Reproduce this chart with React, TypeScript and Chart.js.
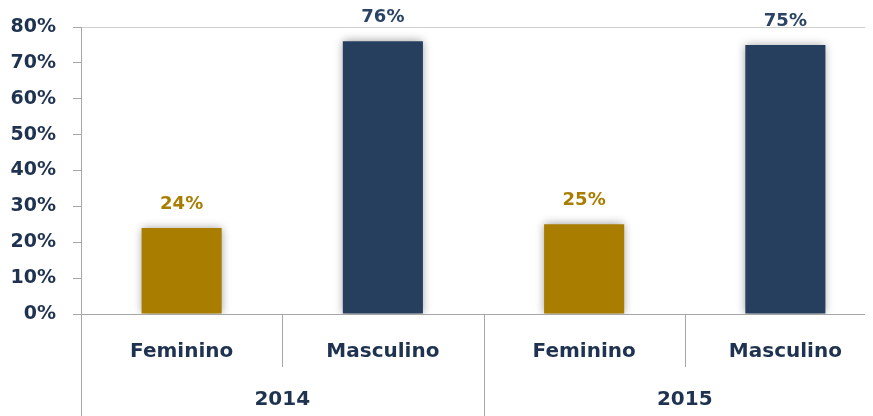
import React, { useEffect, useRef } from "react";
import { Chart, registerables } from "chart.js";

Chart.register(...registerables);

const categories = ["Feminino", "Masculino", "Feminino", "Masculino"];
const groups = ["2014", "2015"];
const groupSize = 2;
const values = [24, 76, 25, 75];
const barColors = ["#A87D00", "#263F5F", "#A87D00", "#263F5F"];
const labelColors = ["#A87D00", "#2B4466", "#A87D00", "#2B4466"];
const yTicks = [0, 10, 20, 30, 40, 50, 60, 70, 80];

const FONT = '"DejaVu Sans", Verdana, sans-serif';
const AXIS_TEXT = "#1F3350";
const AXIS_LINE = "#A6A6A6";

export default function App() {
  const ref = useRef<HTMLCanvasElement | null>(null);

  useEffect(() => {
    const canvas = ref.current;
    if (!canvas) return;

    const shadowPlugin = {
      id: "barShadow",
      beforeDatasetDraw(chart: any) {
        const c = chart.ctx;
        c.save();
        c.shadowColor = "rgba(0,0,0,0.4)";
        c.shadowBlur = 9;
        c.shadowOffsetX = 0;
        c.shadowOffsetY = 0;
      },
      afterDatasetDraw(chart: any) {
        chart.ctx.restore();
      },
    };

    const labelsPlugin = {
      id: "customLabels",
      afterDraw(chart: any) {
        const c = chart.ctx;
        const area = chart.chartArea;
        const xs = chart.scales.x;
        const H = chart.height;
        const meta = chart.getDatasetMeta(0);

        c.save();
        c.font = `bold 18px ${FONT}`;
        c.textAlign = "center";
        c.textBaseline = "middle";
        meta.data.forEach((bar: any, i: number) => {
          c.fillStyle = labelColors[i];
          c.fillText(values[i] + "%", bar.x, bar.y - 24);
        });

        const half = (xs.getPixelForValue(1) - xs.getPixelForValue(0)) / 2;
        c.strokeStyle = AXIS_LINE;
        c.lineWidth = 1;
        c.beginPath();
        c.moveTo(Math.round(area.left) + 0.5, area.bottom);
        c.lineTo(Math.round(area.left) + 0.5, H);
        c.stroke();
        for (let i = 0; i < categories.length; i++) {
          const right = xs.getPixelForValue(i) + half;
          const isGroupEnd = (i + 1) % groupSize === 0;
          c.beginPath();
          c.moveTo(Math.round(right) + 0.5, area.bottom);
          c.lineTo(Math.round(right) + 0.5, isGroupEnd ? H : area.bottom + 53);
          c.stroke();
        }
        c.fillStyle = AXIS_TEXT;
        c.font = `bold 20px ${FONT}`;
        categories.forEach((cat, i) => {
          c.fillText(cat, xs.getPixelForValue(i), area.bottom + 38);
        });
        groups.forEach((g, gi) => {
          const a = xs.getPixelForValue(gi * groupSize);
          const b = xs.getPixelForValue(gi * groupSize + groupSize - 1);
          c.fillText(g, (a + b) / 2, area.bottom + 86);
        });
        c.restore();
      },
    };

    const chart = new Chart(canvas, {
      type: "bar",
      data: {
        labels: categories,
        datasets: [
          {
            data: values,
            backgroundColor: barColors,
            borderWidth: 0,
            barPercentage: 0.398,
            categoryPercentage: 1,
          },
        ],
      },
      options: {
        animation: false,
        responsive: false,
        maintainAspectRatio: false,
        layout: { padding: { top: 19, right: 0, bottom: 0, left: 0 } },
        plugins: {
          legend: { display: false },
          tooltip: { enabled: false },
        },
        scales: {
          x: {
            grid: { display: false },
            border: { display: true, color: AXIS_LINE },
            ticks: { display: false },
            afterFit: (scale: any) => {
              scale.height = 102;
              scale.paddingLeft = 0;
              scale.paddingRight = 0;
            },
          },
          y: {
            min: 0,
            max: 80,
            afterBuildTicks: (scale: any) => {
              scale.ticks = yTicks.map((v) => ({ value: v }));
            },
            afterFit: (scale: any) => {
              scale.width = 73;
              scale.paddingTop = 0;
              scale.paddingBottom = 0;
            },
            grid: {
              color: (ctx: any) =>
                ctx.tick && ctx.tick.value === 80 ? "#CFCFCF" : "rgba(0,0,0,0)",
              tickColor: AXIS_LINE,
              tickLength: 8,
            },
            border: { display: true, color: AXIS_LINE },
            ticks: {
              padding: 17,
              color: AXIS_TEXT,
              font: { family: FONT, size: 19, weight: "bold" },
              callback: (v: any) => v + "%",
            },
          },
        },
      },
      plugins: [shadowPlugin, labelsPlugin],
    });

    return () => chart.destroy();
  }, []);

  return (
    <div style={{ width: 865, height: 408, overflow: "hidden" }}>
      <canvas ref={ref} width={878} height={408} style={{ display: "block" }} />
    </div>
  );
}
